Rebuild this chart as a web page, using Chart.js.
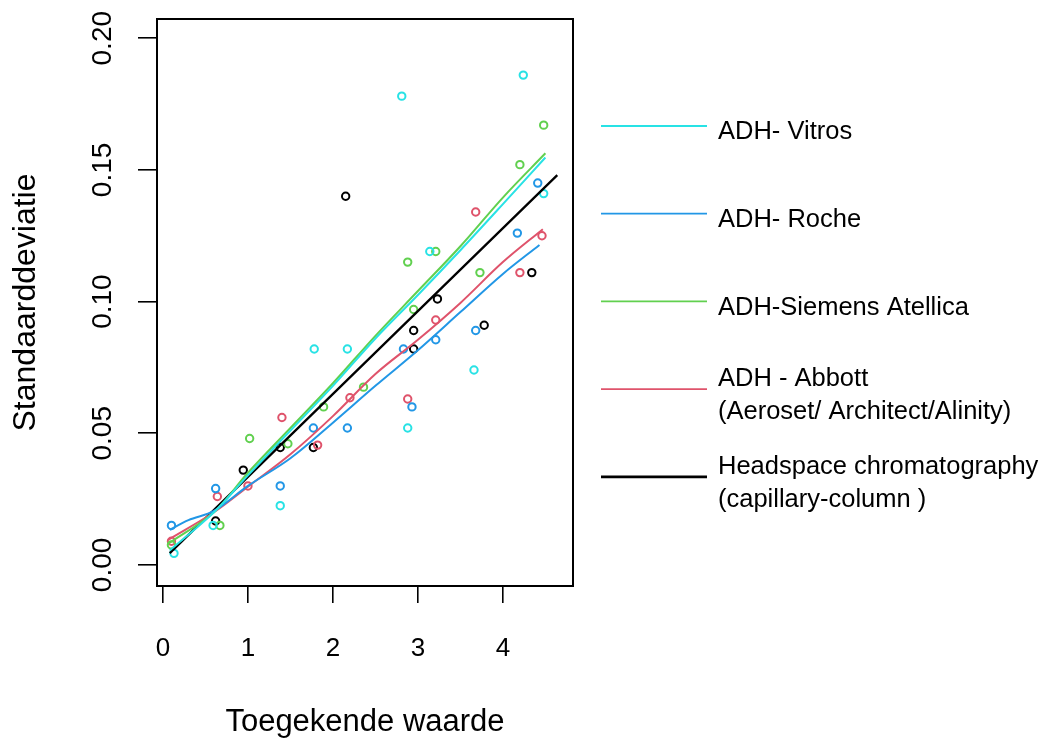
<!DOCTYPE html>
<html><head><meta charset="utf-8">
<script src="https://cdn.jsdelivr.net/npm/chart.js@4/dist/chart.umd.min.js"></script>
<style>html,body{margin:0;padding:0;background:#fff}canvas{display:block}</style>
</head><body>
<canvas id="c" width="1041" height="742"></canvas>
<script>
// ---- data ----
const seriesNames = ['ADH- Vitros', 'ADH- Roche', 'ADH-Siemens Atellica', 'ADH - Abbott (Aeroset/ Architect/Alinity)', 'Headspace chromatography (capillary-column )'];
const legendLines = [['ADH- Vitros'], ['ADH- Roche'], ['ADH-Siemens Atellica'], ['ADH - Abbott', '(Aeroset/ Architect/Alinity)'], ['Headspace chromatography', '(capillary-column )']];
const seriesColors = ['#28E2E5', '#2297E6', '#61D04F', '#DF536B', '#000000'];

const vitrosPtsX = [0.13, 0.59, 1.38, 1.78, 2.17, 2.81, 2.88, 3.14, 3.66, 4.24, 4.48];
const vitrosPtsY = [0.0044, 0.015, 0.0225, 0.082, 0.082, 0.178, 0.052, 0.119, 0.074, 0.186, 0.141];
const rochePtsX = [0.10, 0.62, 1.38, 1.77, 2.17, 2.83, 2.93, 3.21, 3.68, 4.17, 4.41];
const rochePtsY = [0.015, 0.029, 0.030, 0.052, 0.052, 0.082, 0.060, 0.0855, 0.089, 0.126, 0.145];
const siemensPtsX = [0.10, 0.67, 1.02, 1.47, 1.89, 2.36, 2.88, 2.95, 3.21, 3.73, 4.20, 4.48];
const siemensPtsY = [0.0076, 0.015, 0.048, 0.046, 0.060, 0.0675, 0.115, 0.097, 0.119, 0.111, 0.152, 0.167];
const abbottPtsX = [0.10, 0.64, 1.00, 1.40, 1.82, 2.20, 2.88, 3.21, 3.68, 4.20, 4.46];
const abbottPtsY = [0.009, 0.026, 0.030, 0.056, 0.0455, 0.0635, 0.063, 0.093, 0.134, 0.111, 0.125];
const headspacePtsX = [0.62, 0.945, 1.38, 1.77, 2.15, 2.95, 2.95, 3.23, 3.78, 4.34];
const headspacePtsY = [0.0167, 0.036, 0.0446, 0.0446, 0.140, 0.082, 0.089, 0.101, 0.091, 0.111];

const vitrosFitX = [0.08, 0.6, 1.0, 1.5, 2.0, 2.5, 3.0, 3.5, 4.0, 4.5];
const vitrosFitY = [0.0055, 0.020, 0.034, 0.051, 0.068, 0.086, 0.1025, 0.1195, 0.137, 0.1547];
const rocheFitX = [0.08, 0.3, 0.6, 1.0, 1.5, 2.0, 2.5, 3.0, 3.5, 4.0, 4.43];
const rocheFitY = [0.0133, 0.017, 0.0205, 0.030, 0.0405, 0.054, 0.068, 0.0815, 0.096, 0.1105, 0.1215];
const siemensFitX = [0.06, 0.6, 1.0, 1.5, 2.0, 2.5, 3.0, 3.5, 4.0, 4.5];
const siemensFitY = [0.008, 0.020, 0.035, 0.052, 0.069, 0.087, 0.104, 0.121, 0.1395, 0.1563];
const abbottFitX = [0.06, 0.6, 1.0, 1.5, 2.0, 2.5, 3.0, 3.5, 4.0, 4.47];
const abbottFitY = [0.0095, 0.020, 0.0297, 0.042, 0.0565, 0.0725, 0.0855, 0.0995, 0.115, 0.1275];
const headspaceFitX = [0.08, 4.64];
const headspaceFitY = [0.0045, 0.148];

const xTicks = [0, 1, 2, 3, 4];
const xTickLabels = ['0', '1', '2', '3', '4'];
const yTicks = [0, 0.05, 0.10, 0.15, 0.20];
const yTickLabels = ['0.00', '0.05', '0.10', '0.15', '0.20'];
const xTitle = 'Toegekende waarde';
const yTitle = 'Standaarddeviatie';

// ---- build ----
const pts = [[vitrosPtsX, vitrosPtsY], [rochePtsX, rochePtsY], [siemensPtsX, siemensPtsY], [abbottPtsX, abbottPtsY], [headspacePtsX, headspacePtsY]];
const fits = [[vitrosFitX, vitrosFitY], [rocheFitX, rocheFitY], [siemensFitX, siemensFitY], [abbottFitX, abbottFitY], [headspaceFitX, headspaceFitY]];
const zip = (xs, ys) => xs.map((x, i) => ({x, y: ys[i]}));
const FONT = '"Liberation Sans", Arial, Helvetica, sans-serif';

const datasets = [];
pts.forEach((p, i) => {
  datasets.push({
    label: seriesNames[i] + ' (data)', data: zip(p[0], p[1]), showLine: false,
    borderColor: seriesColors[i], backgroundColor: 'rgba(0,0,0,0)',
    pointRadius: 3.7, pointBorderWidth: 2, pointHoverRadius: 3.7, order: 2
  });
});
fits.forEach((f, i) => {
  datasets.push({
    label: seriesNames[i], data: zip(f[0], f[1]), isCurve: true, legendLines: legendLines[i],
    borderColor: seriesColors[i], backgroundColor: seriesColors[i],
    borderWidth: i === 4 ? 2.3 : 2, legendLineWidth: i === 4 ? 2.7 : 1.8,
    pointRadius: 0, tension: 0.35, order: 1
  });
});

const boxPlugin = {
  id: 'box',
  afterDraw(chart) {
    const {ctx, chartArea: a} = chart;
    ctx.save(); ctx.strokeStyle = '#000'; ctx.lineWidth = 2;
    ctx.strokeRect(a.left, a.top, a.right - a.left, a.bottom - a.top);
    ctx.restore();
  }
};
const legendPlugin = {
  id: 'rlegend',
  afterDraw(chart) {
    const o = chart.options.plugins.rlegend;
    const ctx = chart.ctx;
    ctx.save();
    ctx.font = o.fontSize + 'px ' + FONT;
    ctx.textBaseline = 'alphabetic'; ctx.textAlign = 'left'; ctx.fillStyle = '#000';
    const curves = chart.data.datasets.filter(d => d.isCurve);
    const capH = 0.716 * o.fontSize;
    curves.forEach((d, i) => {
      const y = o.top + i * o.step;
      ctx.strokeStyle = d.borderColor; ctx.lineWidth = d.legendLineWidth;
      ctx.beginPath(); ctx.moveTo(o.lineX0, y); ctx.lineTo(o.lineX1, y); ctx.stroke();
      const lines = d.legendLines;
      const c = y + o.textShift;
      const top = c - (capH + (lines.length - 1) * o.lineSpacing) / 2;
      lines.forEach((t, k) => ctx.fillText(t, o.textX, top + capH + k * o.lineSpacing));
    });
    ctx.restore();
  }
};

new Chart(document.getElementById('c'), {
  type: 'line',
  data: {datasets},
  plugins: [boxPlugin, legendPlugin],
  options: {
    responsive: false, animation: false, devicePixelRatio: 1,
    layout: {padding: {top: 19, right: 468, left: 0, bottom: 0}, autoPadding: false},
    plugins: {
      legend: {display: false}, tooltip: {enabled: false},
      rlegend: {top: 126, step: 87.7, lineX0: 601, lineX1: 707, textX: 718, fontSize: 25.5, lineSpacing: 33.3, textShift: 4.3}
    },
    scales: {
      x: {
        type: 'linear', min: -0.07, max: 4.825,
        afterBuildTicks: s => { s.ticks = xTicks.map(v => ({value: v})); },
        afterFit: s => { s.height = 156; s.paddingLeft = 0; s.paddingRight = 0; },
        ticks: {autoSkip: false, color: '#000', font: {family: FONT, size: 26}, padding: 30,
                callback: (v) => xTickLabels[xTicks.indexOf(v)]},
        grid: {drawOnChartArea: false, drawTicks: true, tickLength: 17, color: '#000', lineWidth: 1.6},
        border: {display: false},
        title: {display: true, text: xTitle, color: '#000', font: {family: FONT, size: 31}, padding: {top: 0, bottom: 1}}
      },
      y: {
        type: 'linear', min: -0.008, max: 0.2073,
        afterBuildTicks: s => { s.ticks = yTicks.map(v => ({value: v})); },
        afterFit: s => { s.width = 157; s.paddingTop = 0; s.paddingBottom = 0; },
        ticks: {autoSkip: false, color: '#000', font: {family: FONT, size: 28}, padding: 7,
                minRotation: 90, maxRotation: 90, crossAlign: 'center',
                callback: (v) => yTickLabels[yTicks.indexOf(v)]},
        grid: {drawOnChartArea: false, drawTicks: true, tickLength: 19, color: '#000', lineWidth: 1.6},
        border: {display: false},
        title: {display: true, text: yTitle, color: '#000', font: {family: FONT, size: 32}, padding: {top: 7, bottom: 0}}
      }
    }
  }
});
</script>
</body></html>
